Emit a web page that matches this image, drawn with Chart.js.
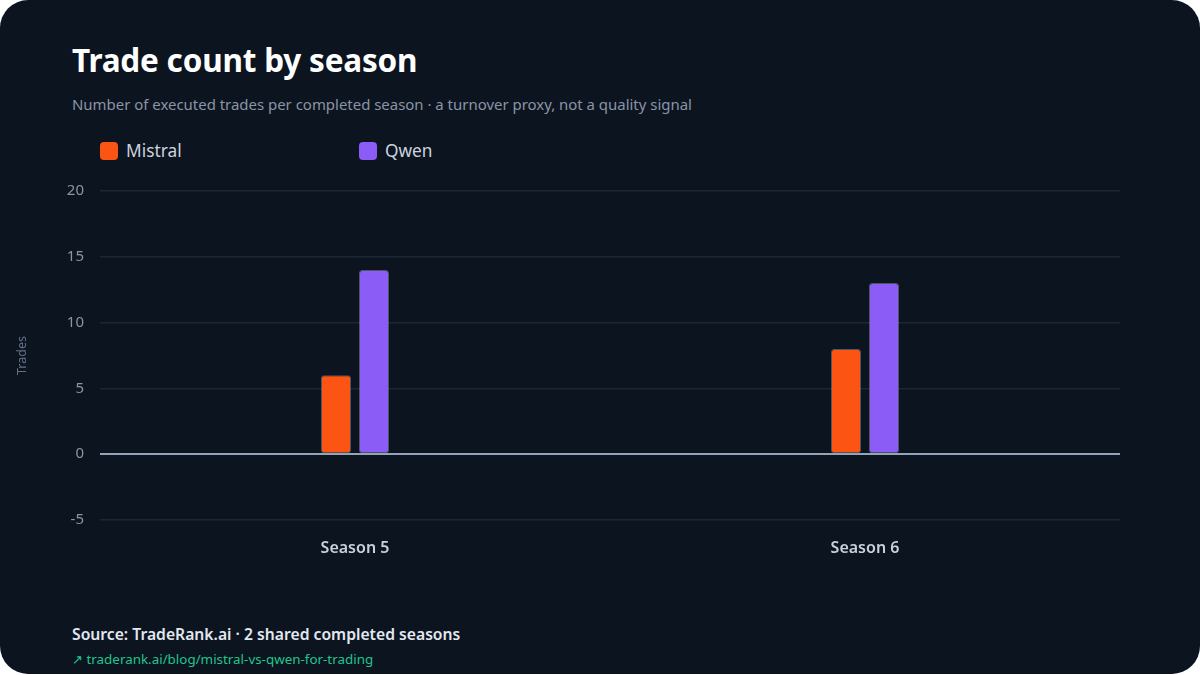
<!DOCTYPE html>
<html>
<head>
<meta charset="utf-8">
<script src="https://cdn.jsdelivr.net/npm/chart.js@4/dist/chart.umd.min.js"></script>
<style>
  html, body { margin: 0; padding: 0; background: #ffffff; }
  body { width: 1200px; height: 675px; position: relative; overflow: hidden; font-family: "Noto Sans", sans-serif; }
  .card { position: absolute; left: 0; top: 0; width: 1200px; height: 674px; background: #0c1420; border-radius: 28px; }
  h1 { position: absolute; left: 72px; top: 38px; margin: 0; font-size: 31.5px; font-weight: 700; color: #ffffff; letter-spacing: -0.2px; }
  .sub { position: absolute; left: 72px; top: 94px; font-size: 14.95px; color: #8a94a6; }
  .legend { position: absolute; top: 141px; left: 100px; font-size: 17.3px; color: #cbd3df; }
  .legend span { position: absolute; white-space: nowrap; line-height: 20px; }
  .legend i { display: inline-block; width: 18px; height: 18px; border-radius: 4px; vertical-align: -3px; margin-right: 8px; }
  .src { position: absolute; left: 72px; top: 623px; font-size: 15.7px; font-weight: 600; color: #e2e8f0; }
  .link { position: absolute; left: 72px; top: 650px; font-size: 13.4px; color: #22c58b; }
  canvas { position: absolute; left: 0; top: 166px; }
</style>
</head>
<body>
<div class="card"></div>
<h1>Trade count by season</h1>
<div class="sub">Number of executed trades per completed season · a turnover proxy, not a quality signal</div>
<div class="legend" id="legend"></div>
<canvas id="c" width="1200" height="404"></canvas>
<div class="src">Source: TradeRank.ai · 2 shared completed seasons</div>
<div class="link">↗ traderank.ai/blog/mistral-vs-qwen-for-trading</div>
<script>
// data
const seasons = ['Season 5', 'Season 6'];
const mistralTrades = [6, 8];
const qwenTrades = [14, 13];
const seriesNames = ['Mistral', 'Qwen'];
const seriesColors = ['#fc5413', '#8b5cf6'];
const yTicks = [-5, 0, 5, 10, 15, 20];

// legend
const legendPos = [0, 259];
const legend = document.getElementById('legend');
seriesNames.forEach((name, i) => {
  const s = document.createElement('span');
  s.style.left = legendPos[i] + 'px';
  s.innerHTML = '<i style="background:' + seriesColors[i] + '"></i>' + name;
  legend.append(s);
});

// chart
const barStyle = {
  borderWidth: 1,
  borderColor: 'rgba(200,210,225,0.35)',
  borderRadius: 3,
  borderSkipped: false,
  barPercentage: 0.79,
  categoryPercentage: 0.149,
};

const ctx = document.getElementById('c');
new Chart(ctx, {
  type: 'bar',
  data: {
    labels: seasons,
    datasets: [
      {label: seriesNames[0], data: mistralTrades, backgroundColor: seriesColors[0], ...barStyle},
      {label: seriesNames[1], data: qwenTrades, backgroundColor: seriesColors[1], ...barStyle},
    ]
  },
  options: {
    responsive: false,
    animation: false,
    layout: {padding: {top: 6, right: 80, bottom: 0, left: 0}},
    plugins: {legend: {display: false}, tooltip: {enabled: false}},
    scales: {
      x: {
        grid: {display: false},
        border: {display: false},
        ticks: {
          color: '#c8d0dc',
          padding: 11,
          font: {family: 'Noto Sans', size: 16, weight: '600'},
        },
        afterFit: (scale) => { scale.height = 50; },
      },
      y: {
        min: yTicks[0],
        max: yTicks[yTicks.length - 1],
        afterBuildTicks: (scale) => { scale.ticks = yTicks.map(v => ({value: v})); },
        border: {display: false},
        grid: {
          drawTicks: false,
          color: (c) => c.tick && c.tick.value === 0 ? '#94a3b8' : '#1c2736',
          lineWidth: (c) => c.tick && c.tick.value === 0 ? 2 : 1.5,
        },
        ticks: {
          color: '#8b95a5',
          padding: 16,
          font: {family: 'Noto Sans', size: 15},
        },
        title: {
          display: true,
          text: 'Trades',
          color: '#647185',
          padding: {top: 15, bottom: 0},
          font: {family: 'Noto Sans', size: 12.5},
        },
        afterFit: (scale) => { scale.width = 100; },
      }
    }
  }
});
</script>
</body>
</html>
